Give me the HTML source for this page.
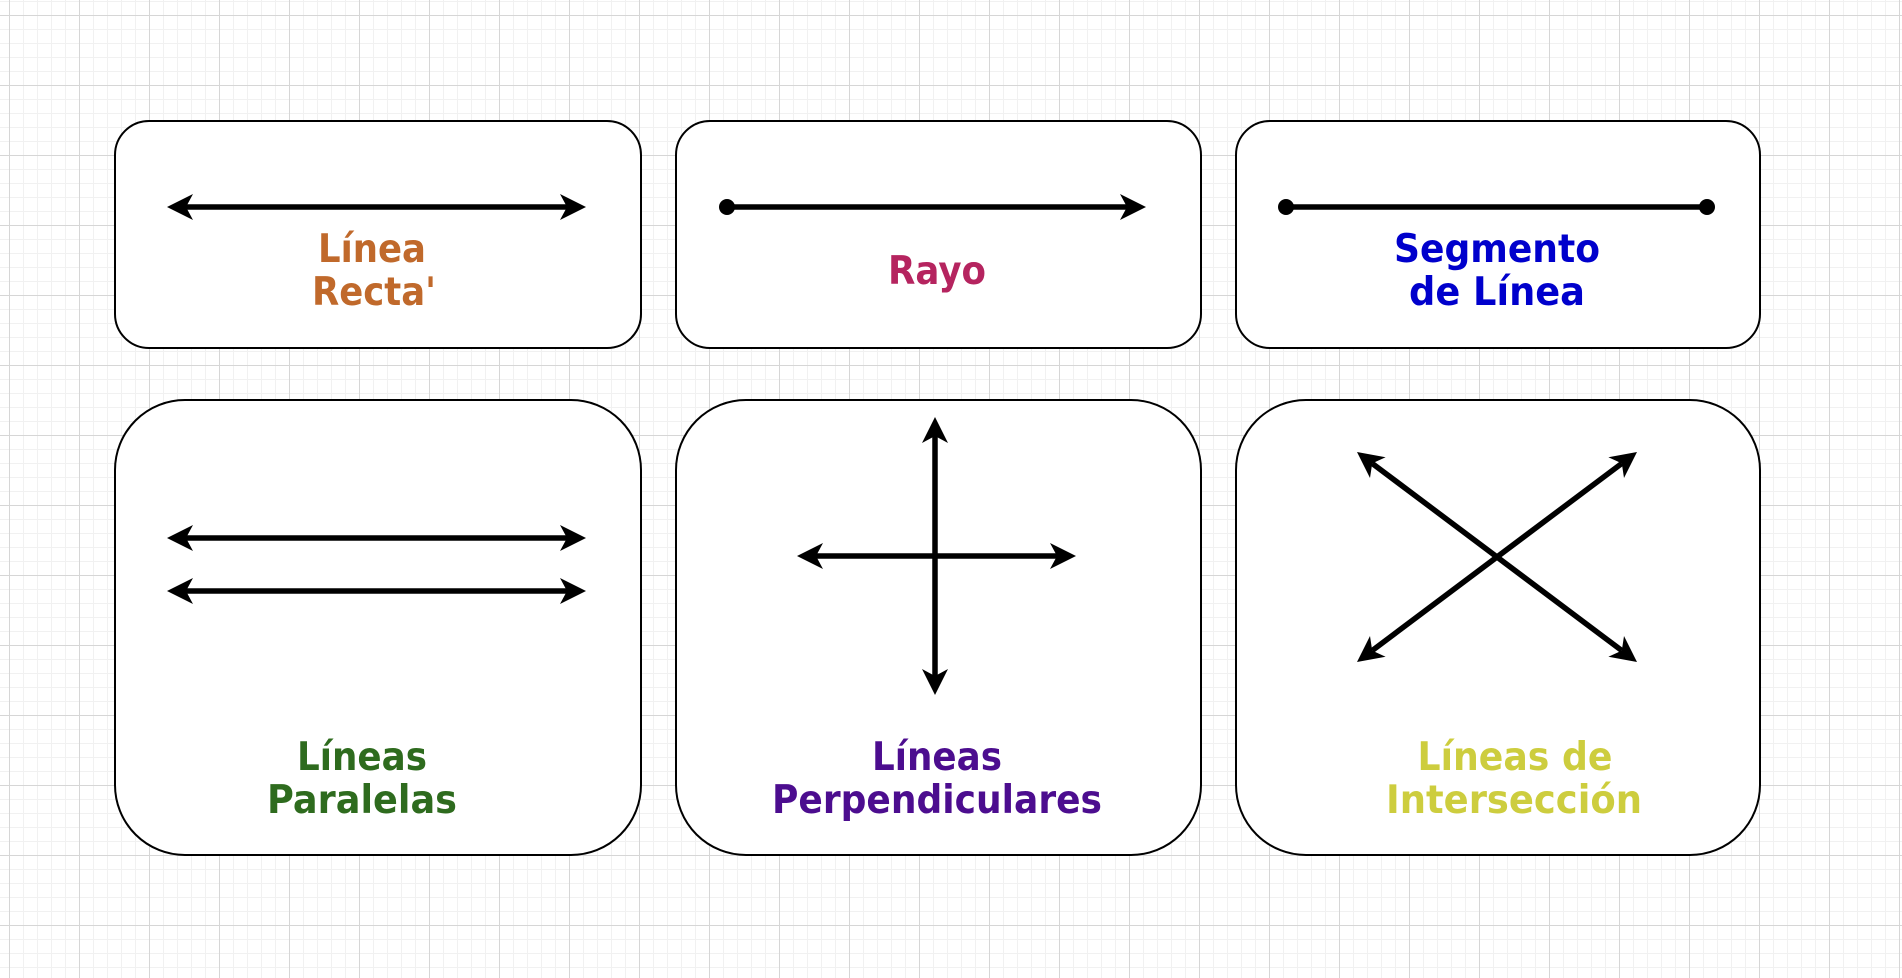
<!DOCTYPE html>
<html><head><meta charset="utf-8"><style>
html,body{margin:0;padding:0;width:1902px;height:978px;overflow:hidden;background:#fff;}
body{background-image:
linear-gradient(to right,#d6d6d6 1px,transparent 1px),
linear-gradient(to bottom,#d6d6d6 1px,transparent 1px),
linear-gradient(to right,#f1f1f1 1px,transparent 1px),
linear-gradient(to bottom,#f1f1f1 1px,transparent 1px);
background-size:70px 70px,70px 70px,14px 14px,14px 14px;
background-position:9px 15px,9px 15px,9px 15px,9px 15px;}
svg{position:absolute;left:0;top:0;}
text{font-family:"DejaVu Sans","Liberation Sans",sans-serif;font-weight:bold;font-size:39px;text-anchor:middle;}
</style></head><body>
<svg width="1902" height="978" viewBox="0 0 1902 978">
<g fill="#fff" stroke="#000" stroke-width="2">
<rect x="115" y="121" width="526" height="227" rx="34"/>
<rect x="676" y="121" width="525" height="227" rx="34"/>
<rect x="1236" y="121" width="524" height="227" rx="34"/>
<rect x="115" y="400" width="526" height="455" rx="70"/>
<rect x="676" y="400" width="525" height="455" rx="70"/>
<rect x="1236" y="400" width="524" height="455" rx="70"/>
</g>
<g stroke="#000" stroke-width="5.5" fill="none">
<line x1="186" y1="207" x2="567" y2="207"/>
<line x1="727" y1="207" x2="1127" y2="207"/>
<line x1="1286" y1="207" x2="1707" y2="207"/>
<line x1="186" y1="538" x2="567" y2="538"/>
<line x1="186" y1="591" x2="567" y2="591"/>
<line x1="935" y1="436" x2="935" y2="676"/>
<line x1="816" y1="556" x2="1057" y2="556"/>
<line x1="1372.2" y1="463.4" x2="1621.8" y2="650.6"/>
<line x1="1621.8" y1="463.4" x2="1372.2" y2="650.6"/>
</g>
<g fill="#000">
<polygon points="167,207 193,194 186,207 193,220"/>
<polygon points="586,207 560,194 567,207 560,220"/>
<polygon points="1146,207 1120,194 1127,207 1120,220"/>
<polygon points="167,538 193,525 186,538 193,551"/>
<polygon points="586,538 560,525 567,538 560,551"/>
<polygon points="167,591 193,578 186,591 193,604"/>
<polygon points="586,591 560,578 567,591 560,604"/>
<polygon points="935,417 922,443 935,436 948,443"/>
<polygon points="935,695 922,669 935,676 948,669"/>
<polygon points="797,556 823,543 816,556 823,569"/>
<polygon points="1076,556 1050,543 1057,556 1050,569"/>
<polygon points="1637,662 1608.4,656.8 1621.8,650.6 1624,636"/>
<polygon points="1357,452 1370,478 1372.2,463.4 1385.6,457.2"/>
<polygon points="1357,662 1385.6,656.8 1372.2,650.6 1370,636"/>
<polygon points="1637,452 1624,478 1621.8,463.4 1608.4,457.2"/>
<circle cx="727" cy="207" r="8"/>
<circle cx="1286" cy="207" r="8"/>
<circle cx="1707" cy="207" r="8"/>
</g>
<g fill="#C0692B">
<text x="372" y="262" textLength="108" lengthAdjust="spacingAndGlyphs">Línea</text>
<text x="374" y="305" textLength="124" lengthAdjust="spacingAndGlyphs">Recta'</text>
</g>
<text x="937" y="284" fill="#B5245F" textLength="98" lengthAdjust="spacingAndGlyphs">Rayo</text>
<g fill="#0000CC">
<text x="1497" y="262" textLength="206" lengthAdjust="spacingAndGlyphs">Segmento</text>
<text x="1497" y="305" textLength="176" lengthAdjust="spacingAndGlyphs">de Línea</text>
</g>
<g fill="#2E6B1E">
<text x="362" y="770" textLength="130" lengthAdjust="spacingAndGlyphs">Líneas</text>
<text x="362" y="813" textLength="190" lengthAdjust="spacingAndGlyphs">Paralelas</text>
</g>
<g fill="#4C0D8F">
<text x="937" y="770" textLength="130" lengthAdjust="spacingAndGlyphs">Líneas</text>
<text x="937" y="813" textLength="330" lengthAdjust="spacingAndGlyphs">Perpendiculares</text>
</g>
<g fill="#CDCD3E">
<text x="1515" y="770" textLength="195" lengthAdjust="spacingAndGlyphs">Líneas de</text>
<text x="1514" y="813" textLength="256" lengthAdjust="spacingAndGlyphs">Intersección</text>
</g>
</svg>
</body></html>
